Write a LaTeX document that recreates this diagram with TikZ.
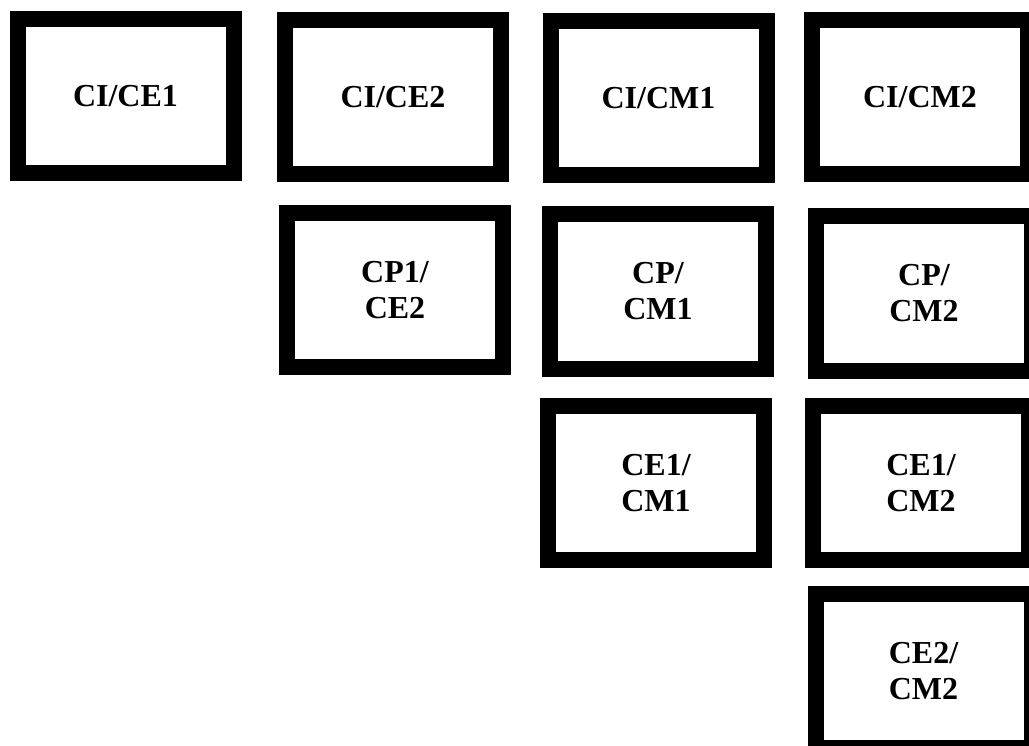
\documentclass[tikz,border=0pt]{standalone}
\usepackage{fontspec}
\setmainfont{Liberation Serif}
\usetikzlibrary{positioning}

\begin{document}
\begin{tikzpicture}[
        x=1pt, y=-1pt,
        pair/.style={rectangle, draw, line width=16pt, minimum width=216pt, minimum height=154pt, inner sep=0pt, align=center, font=\bfseries\fontsize{32}{36}\selectfont}
    ]
        \useasboundingbox (0,0) rectangle (1029,746);

        % first row
        \node[pair] (ci_ce1) at (125.5,96) {CI/CE1};
        \node[pair] (ci_ce2) at (393,97.5) {CI/CE2};
        \node[pair] (ci_cm1) at (658.5,98) {CI/CM1};
        \node[pair] (ci_cm2) at (920,97.5) {CI/CM2};

        % second row
        \node[pair] (cp1_ce2) at (395,290) {CP1/\\CE2};
        \node[pair] (cp_cm1) at (658,291.5) {CP/\\CM1};
        \node[pair] (cp_cm2) at (924,293.5) {CP/\\CM2};

        % third row
        \node[pair] (ce1_cm1) at (656,483) {CE1/\\CM1};
        \node[pair] (ce1_cm2) at (921,483) {CE1/\\CM2};

        % last row
        \node[pair] (ce2_cm2) at (923.5,671) {CE2/\\CM2};
    \end{tikzpicture}
\end{document}
